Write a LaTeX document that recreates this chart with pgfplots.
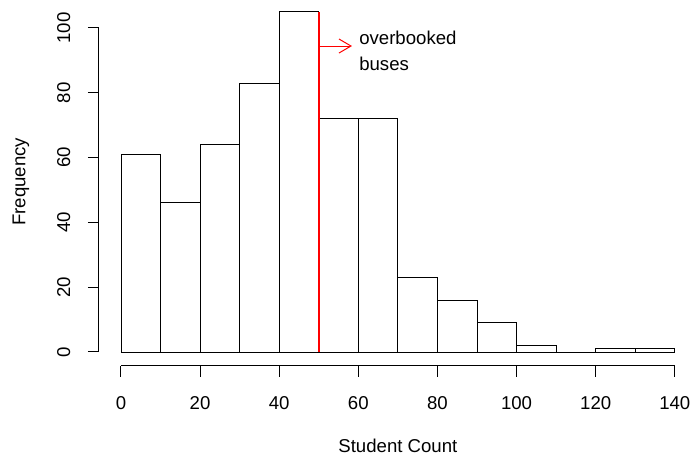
\documentclass[border=0pt]{standalone}
\usepackage{fontspec}
\setmainfont{Liberation Sans}
\usepackage{pgfplots}
\pgfplotsset{compat=1.18}
\usetikzlibrary{arrows.meta}
\newcommand{\rfont}{\fontsize{18.6bp}{22bp}\selectfont}
\begin{document}
\begin{tikzpicture}
\begin{axis}[
  scale only axis,
  width=594.2bp, height=365.6bp,
  at={(0,0)}, anchor=south west,
  xmin=-5.6, xmax=144.6,
  ymin=-4.2, ymax=108.6,
  axis x line*=bottom, axis y line*=left,
  axis line style={draw=none},
  clip=false,
  xtick={0,20,...,140},
  ytick={0,20,...,100},
  tick align=outside,
  major tick length=11bp,
  tick style={black, line width=1bp},
  /pgf/number format/assume math mode=true,
  ticklabel style={font=\rfont},
  xticklabel style={anchor=center, yshift=-26bp},
  yticklabel style={anchor=center, xshift=-24bp, rotate=90},
]
\addplot[ybar interval, fill=white, draw=black, line width=0.9bp]
  coordinates {(0,61)(10,46)(20,64)(30,83)(40,105)(50,72)(60,72)(70,23)(80,16)(90,9)(100,2)(110,0)(120,1)(130,1)(140,1)};
\addplot[red, line width=2.4bp] coordinates {(50,0)(50,105)};
\addplot[red, line width=1bp, -{Straight Barb[length=12bp, width=14bp]}] coordinates {(50,94.4)(58.4,94.4)};
\draw[black, line width=1bp] (axis cs:0,-4.2) -- (axis cs:140,-4.2);
\draw[black, line width=1bp] (axis cs:-5.6,0) -- (axis cs:-5.6,100);
\node[font=\rfont, anchor=base west, inner sep=0pt] at (axis cs:60.2,94.75) {overbooked};
\node[font=\rfont, anchor=base west, inner sep=0pt] at (axis cs:60.2,87.0) {buses};
\node[font=\rfont, inner sep=0pt] at (axis cs:70,-4.2) [yshift=-80bp] {Student Count};
\node[font=\rfont, inner sep=0pt, xshift=-78bp, rotate=90] at (axis cs:-5.6,52.5) {Frequency};
\end{axis}
\pgfresetboundingbox
\path (-98.8bp,-89.4bp) rectangle (594.2bp,365.6bp);
\end{tikzpicture}
\end{document}
